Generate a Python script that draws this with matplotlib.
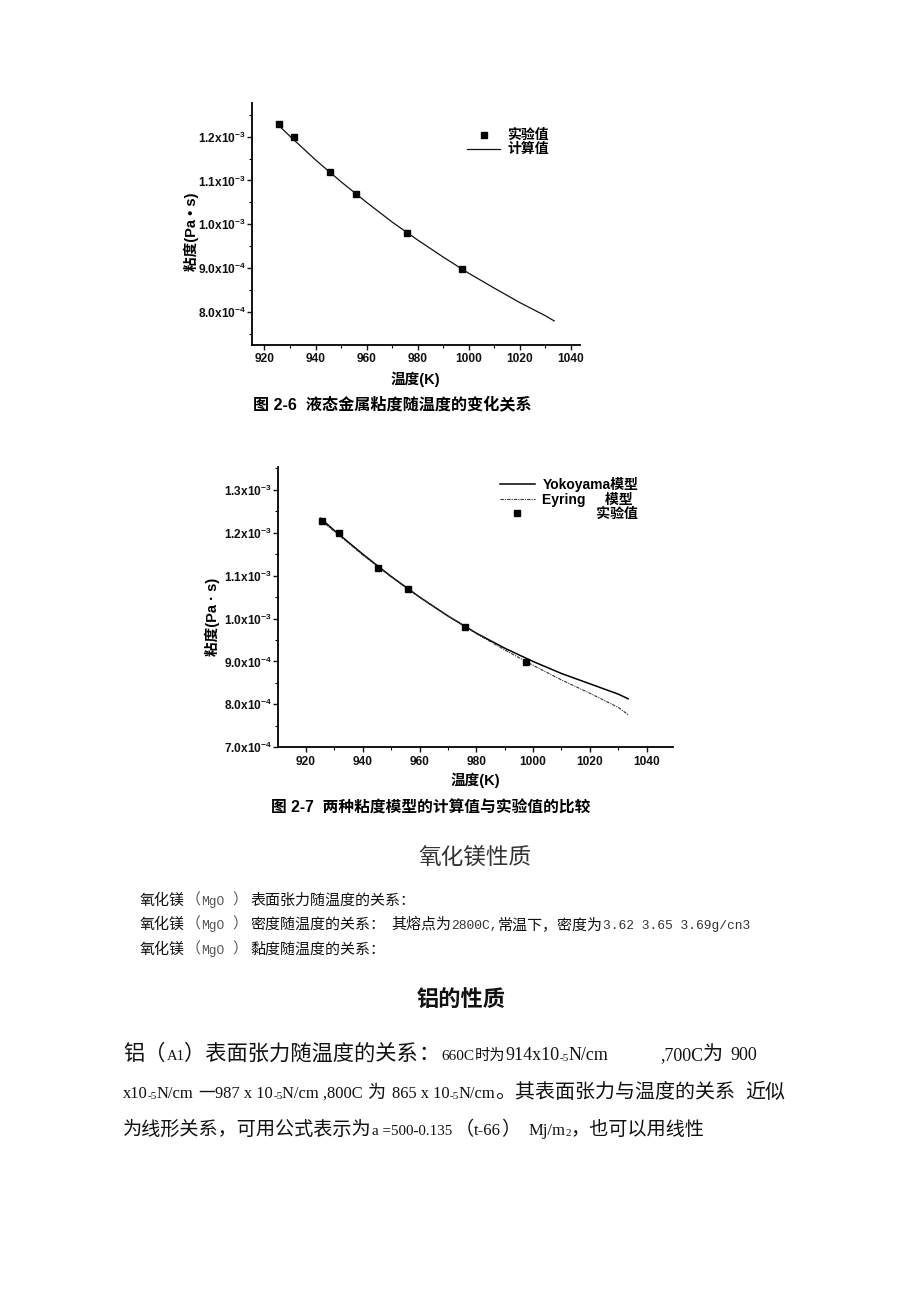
import matplotlib
matplotlib.use('Agg')
import matplotlib.pyplot as plt
from matplotlib.ticker import MultipleLocator

# ---------------- data ----------------
T_exp = [925.5, 931.5, 945.5, 956.0, 976.0, 997.5]
eta_exp = [1.228e-3, 1.199e-3, 1.119e-3, 1.068e-3, 0.981e-3, 0.898e-3]

T_fit = [925, 930, 940, 950, 960, 970, 980, 990, 1000, 1010, 1020, 1030, 1033.5]
eta_calc = [1.229e-3, 1.201e-3, 1.147e-3, 1.097e-3, 1.050e-3, 1.005e-3, 0.964e-3,
            0.925e-3, 0.888e-3, 0.854e-3, 0.821e-3, 0.791e-3, 0.779e-3]
eta_yoko = [1.234e-3, 1.205e-3, 1.150e-3, 1.098e-3, 1.050e-3, 1.006e-3, 0.966e-3,
            0.931e-3, 0.900e-3, 0.872e-3, 0.848e-3, 0.824e-3, 0.813e-3]
eta_eyring = [1.230e-3, 1.203e-3, 1.148e-3, 1.097e-3, 1.050e-3, 1.006e-3, 0.965e-3,
              0.927e-3, 0.891e-3, 0.857e-3, 0.826e-3, 0.793e-3, 0.776e-3]

x_ticks = [920, 940, 960, 980, 1000, 1020, 1040]
x_tick_labels = ['920', '940', '960', '980', '1000', '1020', '1040']
y1_ticks = [8.0e-4, 9.0e-4, 1.0e-3, 1.1e-3, 1.2e-3]
y1_tick_labels = [r'8.0x10$^{-4}$', r'9.0x10$^{-4}$', r'1.0x10$^{-3}$',
                  r'1.1x10$^{-3}$', r'1.2x10$^{-3}$']
y2_ticks = [7.0e-4, 8.0e-4, 9.0e-4, 1.0e-3, 1.1e-3, 1.2e-3, 1.3e-3]
y2_tick_labels = [r'7.0x10$^{-4}$', r'8.0x10$^{-4}$', r'9.0x10$^{-4}$', r'1.0x10$^{-3}$',
                  r'1.1x10$^{-3}$', r'1.2x10$^{-3}$', r'1.3x10$^{-3}$']

# ---------------- setup ----------------
W, H = 920, 1302
plt.rcParams['font.family'] = ['Liberation Sans', 'Noto Sans CJK SC']
plt.rcParams['mathtext.fontset'] = 'custom'
plt.rcParams['mathtext.rm'] = 'Liberation Sans:bold'
plt.rcParams['mathtext.it'] = 'Liberation Sans:italic'
plt.rcParams['mathtext.bf'] = 'Liberation Sans:bold'

CJK = 'Noto Sans CJK SC'
MONO = 'Liberation Mono'
SERIF = 'Liberation Serif'
MIX = ['Liberation Sans', 'Noto Sans CJK SC']

fig = plt.figure(figsize=(W / 100, H / 100), dpi=100)
fig.patch.set_facecolor('white')
renderer = fig.canvas.get_renderer()


def px_axes(left, top, right, bottom):
    return fig.add_axes([left / W, 1 - bottom / H, (right - left) / W, (bottom - top) / H])


def style_axes(ax, xlim, ylim, yticks, ylabels):
    ax.set_xlim(*xlim)
    ax.set_ylim(*ylim)
    ax.spines['top'].set_visible(False)
    ax.spines['right'].set_visible(False)
    for s in ('left', 'bottom'):
        ax.spines[s].set_linewidth(1.3)
    ax.set_xticks(x_ticks)
    ax.set_xticklabels(x_tick_labels, fontweight='bold')
    ax.xaxis.set_minor_locator(MultipleLocator(10))
    ax.set_yticks(yticks)
    ax.set_yticklabels(ylabels, fontweight='bold')
    ax.yaxis.set_minor_locator(MultipleLocator(0.5e-4))
    ax.tick_params(which='major', direction='out', length=3.5, width=1.0, labelsize=8.6,
                   colors='#111111')
    ax.tick_params(which='minor', direction='out', length=2.0, width=0.8)
    ax.tick_params(axis='x', which='major', pad=2.5)
    ax.tick_params(axis='y', which='major', pad=1.0)


# ---------------- chart 1 ----------------
ax1 = px_axes(251.7, 103, 580, 345)
ax1.plot(T_exp, eta_exp, 's', color='black', markersize=4.5, label='实验值')
ax1.plot(T_fit, eta_calc, '-', color='#111111', lw=0.9, label='计算值')
style_axes(ax1, (915, 1043.6), (7.24e-4, 1.277e-3), y1_ticks, y1_tick_labels)
ax1.set_xlabel('温度(K)', fontsize=10.5, fontweight='bold')
ax1.xaxis.set_label_coords(0.5, -0.11)
ax1.set_ylabel('粘度(Pa • s)', fontsize=10.5, fontweight='bold')
ax1.yaxis.set_label_coords(-0.16, 0.47)
ax1.legend(loc='upper left', bbox_to_anchor=(0.656, 0.895), frameon=False,
           prop=dict(family=MIX, weight='bold', size=10), handlelength=2.4,
           labelspacing=0.0, handletextpad=0.5, borderpad=0, borderaxespad=0)
fig.text(253 / W, 1 - 405 / H, '图 2-6  液态金属粘度随温度的变化关系', family=MIX,
         fontsize=11.6, fontweight='bold', ha='left', va='center')

# ---------------- chart 2 ----------------
ax2 = px_axes(278.3, 466.7, 673, 747.3)
ax2.plot(T_fit, eta_yoko, '-', color='black', lw=1.1, label='Yokoyama模型')
ax2.plot(T_fit, eta_eyring, color='#333333', lw=0.8, linestyle=(0, (3, 1, 1, 1)),
         label='Eyring     模型')
ax2.plot(T_exp, eta_exp, 's', color='black', markersize=4.5,
         label='              实验值')
style_axes(ax2, (910.2, 1049.3), (7.0e-4, 1.354e-3), y2_ticks, y2_tick_labels)
ax2.set_xlabel('温度(K)', fontsize=10.5, fontweight='bold')
ax2.xaxis.set_label_coords(0.5, -0.09)
ax2.set_ylabel('粘度(Pa · s)', fontsize=10.5, fontweight='bold')
ax2.yaxis.set_label_coords(-0.148, 0.464)
ax2.legend(loc='upper left', bbox_to_anchor=(0.5617, 0.965), frameon=False,
           prop=dict(family=MIX, weight='bold', size=10), handlelength=2.5,
           labelspacing=0.0, handletextpad=0.55, borderpad=0, borderaxespad=0)
fig.text(271 / W, 1 - 808 / H, '图 2-7  两种粘度模型的计算值与实验值的比较', family=MIX,
         fontsize=11.3, fontweight='bold', ha='left', va='center')


# ---------------- body text ----------------
def runs(x, y, items):
    for it in items:
        txt, fam, size = it[0], it[1], it[2]
        o = it[3] if len(it) > 3 else {}
        x += o.get('pre', 0)
        t = fig.text(x / W, 1 - (y + o.get('dy', 0)) / H, txt, family=fam, fontsize=size,
                     color=o.get('color', '#111111'), fontweight=o.get('weight', 'normal'),
                     ha='left', va='baseline')
        bb = t.get_window_extent(renderer)
        x = bb.x1 + o.get('gap', 0)


fig.text(475 / W, 1 - 864 / H, '氧化镁性质', family=CJK, fontsize=16.3, color='#333333',
         fontweight='light', ha='center', va='baseline')

cs = 10.8   # CJK size for MgO lines
ms = 9.4    # mono size
gray = '#555555'
runs(140, 905, [('氧化镁', CJK, cs, {'gap': 1}), ('（', CJK, cs, {'color': gray}),
                ('MgO', MONO, ms, {'color': gray, 'gap': 8}), ('）', CJK, cs, {'color': gray, 'gap': 3}),
                ('表面张力随温度的关系：', CJK, cs)])
runs(140, 929, [('氧化镁', CJK, cs, {'gap': 1}), ('（', CJK, cs, {'color': gray}),
                ('MgO', MONO, ms, {'color': gray, 'gap': 8}), ('）', CJK, cs, {'color': gray, 'gap': 3}),
                ('密度随温度的关系：', CJK, cs, {'gap': 6}), ('其熔点为', CJK, cs),
                ('2800C,', MONO, ms, {'color': '#333333'}), ('常温下，密度为', CJK, cs),
                ('3.62 3.65 3.69g/cn3', MONO, ms, {'color': '#333333'})])
runs(140, 954, [('氧化镁', CJK, cs, {'gap': 1}), ('（', CJK, cs, {'color': gray}),
                ('MgO', MONO, ms, {'color': gray, 'gap': 8}), ('）', CJK, cs, {'color': gray, 'gap': 3}),
                ('黏度随温度的关系：', CJK, cs)])

fig.text(461 / W, 1 - 1006 / H, '铝的性质', family=CJK, fontsize=16, color='#111111',
         fontweight='bold', ha='center', va='baseline')

sub = 8.0
runs(123, 1060, [('铝（', CJK, 15.3), ('A1', SERIF, 10.5, {'pre': 1}), ('）表面张力随温度的关系', CJK, 15.3),
                 ('：', CJK, 15.3, {'gap': 2}),
                 ('660C', SERIF, 11.0), ('时为', CJK, 11.0), ('914x10', SERIF, 13),
                 ('-5', SERIF, sub, {'dy': 1}), ('N/cm', SERIF, 13, {'gap': 52}),
                 (',700C', SERIF, 13), ('为', CJK, 14.5, {'gap': 7}), ('900', SERIF, 13)])
s2 = 11.9
runs(123, 1098, [('x10', SERIF, s2), ('-5', SERIF, sub, {'dy': 1}), ('N/cm', SERIF, s2, {'gap': 5}),
                 ('一', CJK, 12), ('987 x 10', SERIF, s2), ('-5', SERIF, sub, {'dy': 1}),
                 ('N/cm ,800C', SERIF, s2, {'gap': 4}), ('为', CJK, 13, {'gap': 7}),
                 ('865 x 10', SERIF, s2), ('-5', SERIF, sub, {'dy': 1}), ('N/cm', SERIF, s2),
                 ('。其表面张力与温度的关系', CJK, 14.4, {'gap': 10}), ('近似', CJK, 14.4)])
runs(123, 1135, [('为线形关系，可用公式表示为', CJK, 13.8), ('a =500-0.135', SERIF, 10.8, {'gap': 3}),
                 ('（', CJK, 13.8), ('t-66', SERIF, 12), ('）', CJK, 13.8, {'gap': 8}),
                 ('Mj/m', SERIF, 12), ('2', SERIF, sub, {'dy': 1}), ('，也可以用线性', CJK, 13.8)])

fig.savefig('out.png', dpi=100, facecolor='white')
